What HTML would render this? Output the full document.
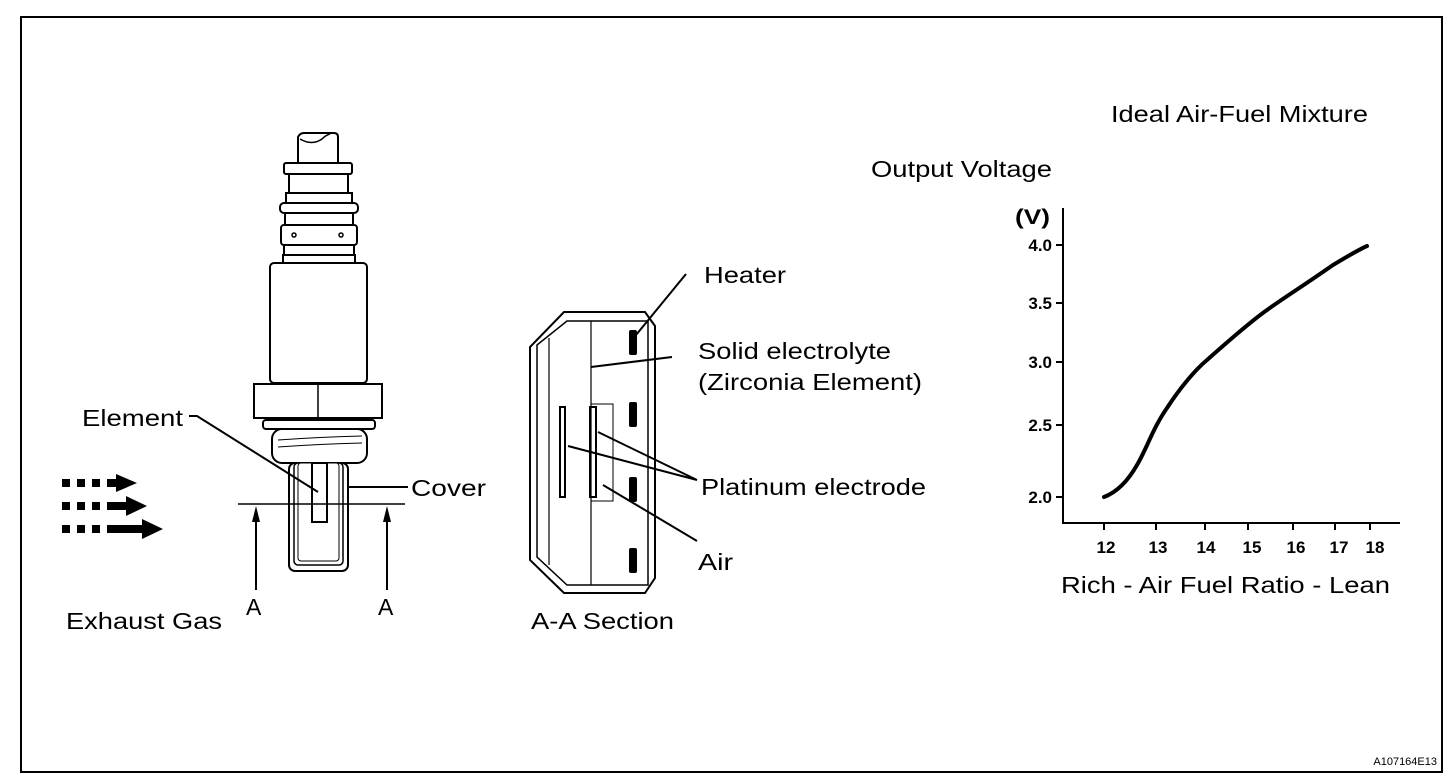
<!DOCTYPE html>
<html><head><meta charset="utf-8"><style>
html,body{margin:0;padding:0;background:#fff;}
svg{display:block;}
text{font-family:"Liberation Sans",Arial,sans-serif;fill:#000;}
</style></head><body>
<svg width="1456" height="784" viewBox="0 0 1456 784" xmlns="http://www.w3.org/2000/svg">
<rect x="21" y="17" width="1421" height="755" fill="none" stroke="#000" stroke-width="2"/>

<!-- Sensor -->
<g fill="#fff" stroke="#000" stroke-width="2">
<path d="M298,163 V137 Q300,133 304,133 H334 Q338,133 338,137 V163"/>
<path d="M300,139 Q312,146 322,139 Q326,135 330,134" fill="none" stroke-width="1.5"/>
<rect x="284" y="163" width="68" height="11" rx="2"/>
<rect x="289" y="174" width="59" height="19"/>
<rect x="286" y="193" width="66" height="10"/>
<rect x="280" y="203" width="78" height="10" rx="4"/>
<rect x="285" y="213" width="68" height="12"/>
<rect x="281" y="225" width="76" height="20" rx="3"/>
<rect x="284" y="245" width="70" height="10"/>
<rect x="283" y="255" width="72" height="8"/>
<rect x="270" y="263" width="97" height="120" rx="4"/>
<rect x="254" y="384" width="128" height="34"/>
<line x1="318" y1="384" x2="318" y2="418" stroke-width="1.5"/>
<rect x="263" y="420" width="112" height="9" rx="3"/>
<rect x="272" y="429" width="95" height="34" rx="10"/>
<path d="M278,440 Q320,437 362,436 M278,447 Q320,444 362,443" fill="none" stroke-width="1"/>
<rect x="289" y="463" width="59" height="108" rx="6"/>
<rect x="294" y="463" width="49" height="102" rx="4" stroke-width="1.5"/>
<rect x="298" y="463" width="41" height="98" rx="3" stroke-width="1"/>
<rect x="312" y="463" width="15" height="59"/>
</g>
<circle cx="294" cy="235" r="2" fill="none" stroke="#000" stroke-width="1.5"/>
<circle cx="341" cy="235" r="2" fill="none" stroke="#000" stroke-width="1.5"/>

<!-- section line and arrows -->
<line x1="238" y1="504" x2="405" y2="504" stroke="#000" stroke-width="1.5"/>
<line x1="256" y1="590" x2="256" y2="520" stroke="#000" stroke-width="2"/>
<polygon points="256,506 252,522 260,522" fill="#000"/>
<line x1="387" y1="590" x2="387" y2="520" stroke="#000" stroke-width="2"/>
<polygon points="387,506 383,522 391,522" fill="#000"/>

<!-- Element leader -->
<polyline points="189,416 197,416 318,492" fill="none" stroke="#000" stroke-width="2"/>
<text x="82" y="426" font-size="23" textLength="101" lengthAdjust="spacingAndGlyphs">Element</text>
<line x1="348" y1="487" x2="408" y2="487" stroke="#000" stroke-width="2"/>
<text x="411" y="496" font-size="23" textLength="75" lengthAdjust="spacingAndGlyphs">Cover</text>
<text x="246" y="615" font-size="23">A</text>
<text x="378" y="615" font-size="23">A</text>
<text x="66" y="629" font-size="23" textLength="156" lengthAdjust="spacingAndGlyphs">Exhaust Gas</text>

<!-- exhaust arrows -->
<g fill="#000">
<rect x="62" y="479" width="8" height="8"/><rect x="77" y="479" width="8" height="8"/><rect x="92" y="479" width="8" height="8"/>
<rect x="107" y="479" width="10" height="8"/><polygon points="116,474 137,483 116,492"/>
<rect x="62" y="502" width="8" height="8"/><rect x="77" y="502" width="8" height="8"/><rect x="92" y="502" width="8" height="8"/>
<rect x="107" y="502" width="20" height="8"/><polygon points="126,496 147,506 126,516"/>
<rect x="62" y="525" width="8" height="8"/><rect x="77" y="525" width="8" height="8"/><rect x="92" y="525" width="8" height="8"/>
<rect x="107" y="525" width="36" height="8"/><polygon points="142,519 163,529 142,539"/>
</g>

<!-- A-A section -->
<g fill="none" stroke="#000" stroke-width="2">
<polygon points="564,312 645,312 655,326 655,578 645,593 564,593 530,560 530,347" />
<polygon points="567,321 648,321 648,585 567,585 537,557 537,345" stroke-width="1.5"/>
<line x1="549" y1="338" x2="549" y2="565" stroke-width="1.2"/>
<line x1="591" y1="321" x2="591" y2="585" stroke-width="1.2"/>
<rect x="591" y="404" width="22" height="97" stroke-width="1"/>
<rect x="560" y="407" width="5" height="90" stroke-width="2"/>
<rect x="590" y="407" width="6" height="90" stroke-width="2"/>
</g>
<g fill="#000">
<rect x="629" y="330" width="8" height="25" rx="2"/>
<rect x="629" y="402" width="8" height="25" rx="2"/>
<rect x="629" y="477" width="8" height="25" rx="2"/>
<rect x="629" y="548" width="8" height="25" rx="2"/>
</g>
<g stroke="#000" stroke-width="2" fill="none">
<line x1="636" y1="335" x2="686" y2="274"/>
<line x1="591" y1="367" x2="672" y2="357"/>
<polyline points="568,446 697,480 598,432"/>
<line x1="603" y1="485" x2="697" y2="541"/>
</g>
<text x="704" y="283" font-size="23" textLength="82" lengthAdjust="spacingAndGlyphs">Heater</text>
<text x="698" y="359" font-size="23" textLength="193" lengthAdjust="spacingAndGlyphs">Solid electrolyte</text>
<text x="698" y="390" font-size="23" textLength="224" lengthAdjust="spacingAndGlyphs">(Zirconia Element)</text>
<text x="701" y="495" font-size="23" textLength="225" lengthAdjust="spacingAndGlyphs">Platinum electrode</text>
<text x="698" y="570" font-size="23" textLength="35" lengthAdjust="spacingAndGlyphs">Air</text>
<text x="531" y="629" font-size="23" textLength="143" lengthAdjust="spacingAndGlyphs">A-A Section</text>

<!-- Graph -->
<text x="1111" y="122" font-size="23" textLength="257" lengthAdjust="spacingAndGlyphs">Ideal Air-Fuel Mixture</text>
<text x="871" y="177" font-size="23" textLength="181" lengthAdjust="spacingAndGlyphs">Output Voltage</text>
<text x="1015" y="224" font-size="21" font-weight="bold" textLength="35" lengthAdjust="spacingAndGlyphs">(V)</text>
<polyline points="1063,208 1063,523 1400,523" fill="none" stroke="#000" stroke-width="2"/>
<g stroke="#000" stroke-width="2">
<line x1="1063" y1="245" x2="1056" y2="245"/>
<line x1="1063" y1="303" x2="1056" y2="303"/>
<line x1="1063" y1="362" x2="1056" y2="362"/>
<line x1="1063" y1="425" x2="1056" y2="425"/>
<line x1="1063" y1="497" x2="1056" y2="497"/>
<line x1="1104" y1="523" x2="1104" y2="530"/>
<line x1="1156" y1="523" x2="1156" y2="530"/>
<line x1="1205" y1="523" x2="1205" y2="530"/>
<line x1="1248" y1="523" x2="1248" y2="530"/>
<line x1="1293" y1="523" x2="1293" y2="530"/>
<line x1="1335" y1="523" x2="1335" y2="530"/>
<line x1="1370" y1="523" x2="1370" y2="530"/>
</g>
<g font-size="17" font-weight="bold" text-anchor="end">
<text x="1052" y="251">4.0</text>
<text x="1052" y="309">3.5</text>
<text x="1052" y="368">3.0</text>
<text x="1052" y="431">2.5</text>
<text x="1052" y="503">2.0</text>
</g>
<g font-size="17" font-weight="bold" text-anchor="middle">
<text x="1106" y="553">12</text>
<text x="1158" y="553">13</text>
<text x="1206" y="553">14</text>
<text x="1252" y="553">15</text>
<text x="1296" y="553">16</text>
<text x="1339" y="553">17</text>
<text x="1375" y="553">18</text>
</g>
<path d="M1104,497 C1112,494 1125,486 1137,465 C1147,448 1153,428 1167,408 C1180,388 1195,370 1207,360 C1225,344 1250,322 1267,310 C1285,297 1300,288 1333,265 C1348,256 1360,249 1367,246" fill="none" stroke="#000" stroke-width="4" stroke-linecap="round"/>
<text x="1061" y="593" font-size="23" textLength="329" lengthAdjust="spacingAndGlyphs">Rich - Air Fuel Ratio - Lean</text>

<text x="1437" y="765" font-size="11" text-anchor="end">A107164E13</text>
</svg>
</body></html>
